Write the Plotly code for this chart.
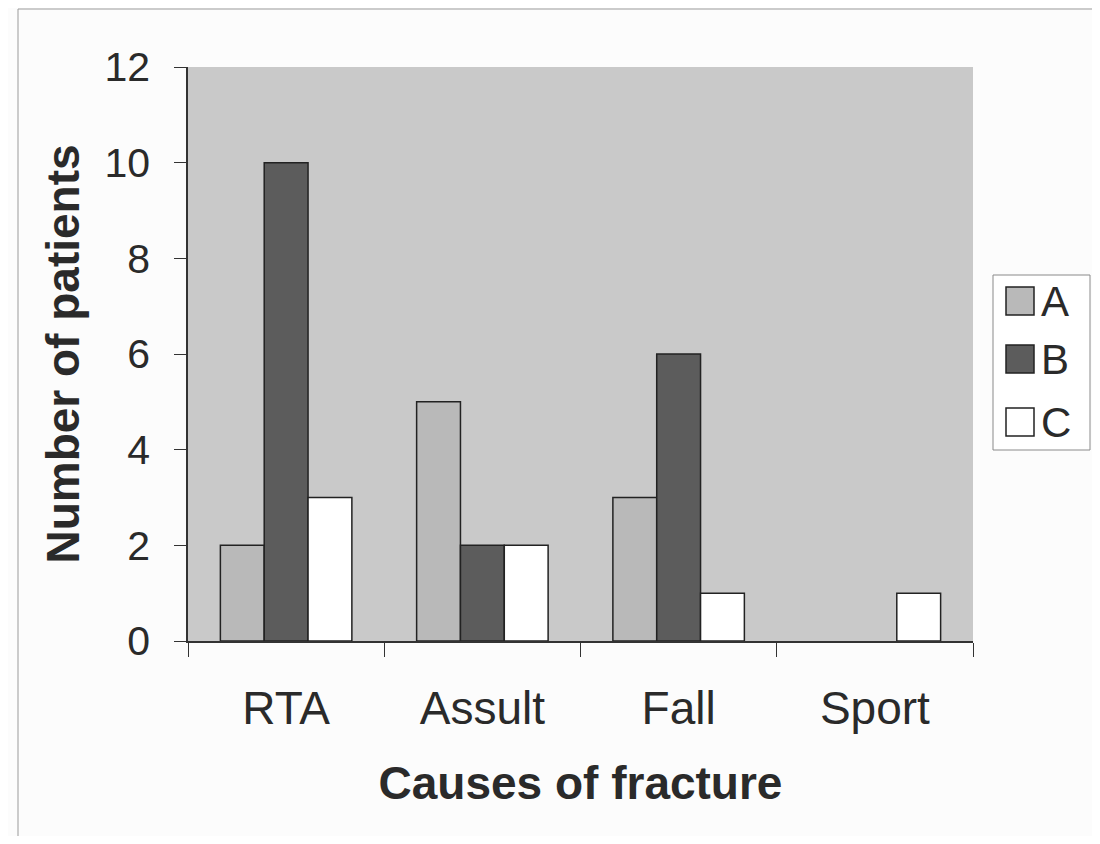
import plotly.graph_objects as go

causes = ["RTA", "Assult", "Fall", "Sport"]
group_a = [2, 5, 3, 0]
group_b = [10, 2, 6, 0]
group_c = [3, 2, 1, 1]

series = [
    ("A", group_a, "#b9b9b9"),
    ("B", group_b, "#5c5c5c"),
    ("C", group_c, "#ffffff"),
]

FONT = "Liberation Sans, Arial, sans-serif"
TEXT = "#2a2a2a"

# plot area in page pixels (page has an 8px body margin)
PX0, PX1, PY0, PY1 = 188, 973, 67, 641


def px(x):
    return (x - PX0) / (PX1 - PX0)


def py(y):
    return (PY1 - y) / (PY1 - PY0)


fig = go.Figure()
for name, vals, colour in series:
    fig.add_trace(go.Bar(
        x=causes, y=vals, name=name, showlegend=False,
        marker=dict(
            color=colour,
            # Excel draws nothing for zero-height bars
            line=dict(color="#222222", width=[1.5 if v else 0 for v in vals]),
        ),
    ))

# hand-drawn legend box with big swatches, like the original
shapes = [
    dict(type="rect", xref="paper", yref="paper",
         x0=px(993), x1=px(1090), y0=py(450), y1=py(275),
         fillcolor="#ffffff", line=dict(color="#8a8a8a", width=1)),
    # thin page frame lines (top and left)
    dict(type="line", xref="paper", yref="paper",
         x0=px(18), x1=px(1100), y0=py(9), y1=py(9),
         line=dict(color="#9a9a9a", width=1)),
    dict(type="line", xref="paper", yref="paper",
         x0=px(18), x1=px(18), y0=py(9), y1=py(844),
         line=dict(color="#9a9a9a", width=1)),
]
annotations = []
legend_y = [301, 359, 422]
for (name, _, colour), yc in zip(series, legend_y):
    shapes.append(dict(
        type="rect", xref="paper", yref="paper",
        x0=px(1006), x1=px(1034), y0=py(yc + 14), y1=py(yc - 14),
        fillcolor=colour, line=dict(color="#222222", width=1.5),
    ))
    annotations.append(dict(
        xref="paper", yref="paper", x=px(1039), y=py(yc),
        xanchor="left", yanchor="middle", showarrow=False,
        text=name, font=dict(size=42, color=TEXT, family=FONT),
    ))

fig.update_layout(
    width=1084, height=828,
    barmode="group", bargap=0.33, bargroupgap=0,
    plot_bgcolor="#c9c9c9", paper_bgcolor="#fcfcfc",
    margin=dict(l=180, r=119, t=59, b=195),
    font=dict(family=FONT, color=TEXT),
    showlegend=False,
    shapes=shapes,
    annotations=annotations,
    xaxis=dict(
        showline=True, linecolor="#333333", linewidth=1.5, mirror=False,
        ticks="outside", tickson="boundaries", ticklen=14, tickcolor="#333333",
        tickfont=dict(size=46), ticklabelstandoff=26,
        title=dict(text="<b>Causes of fracture</b>", font=dict(size=46), standoff=34),
    ),
    yaxis=dict(
        range=[0, 12], dtick=2, showgrid=False, zeroline=False,
        showline=True, linecolor="#333333", linewidth=1.5,
        ticks="outside", ticklen=12, tickcolor="#333333",
        tickfont=dict(size=41), ticklabelstandoff=16,
        title=dict(text="<b>Number of patients</b>", font=dict(size=46), standoff=10),
    ),
)

fig.write_html("out.html")
